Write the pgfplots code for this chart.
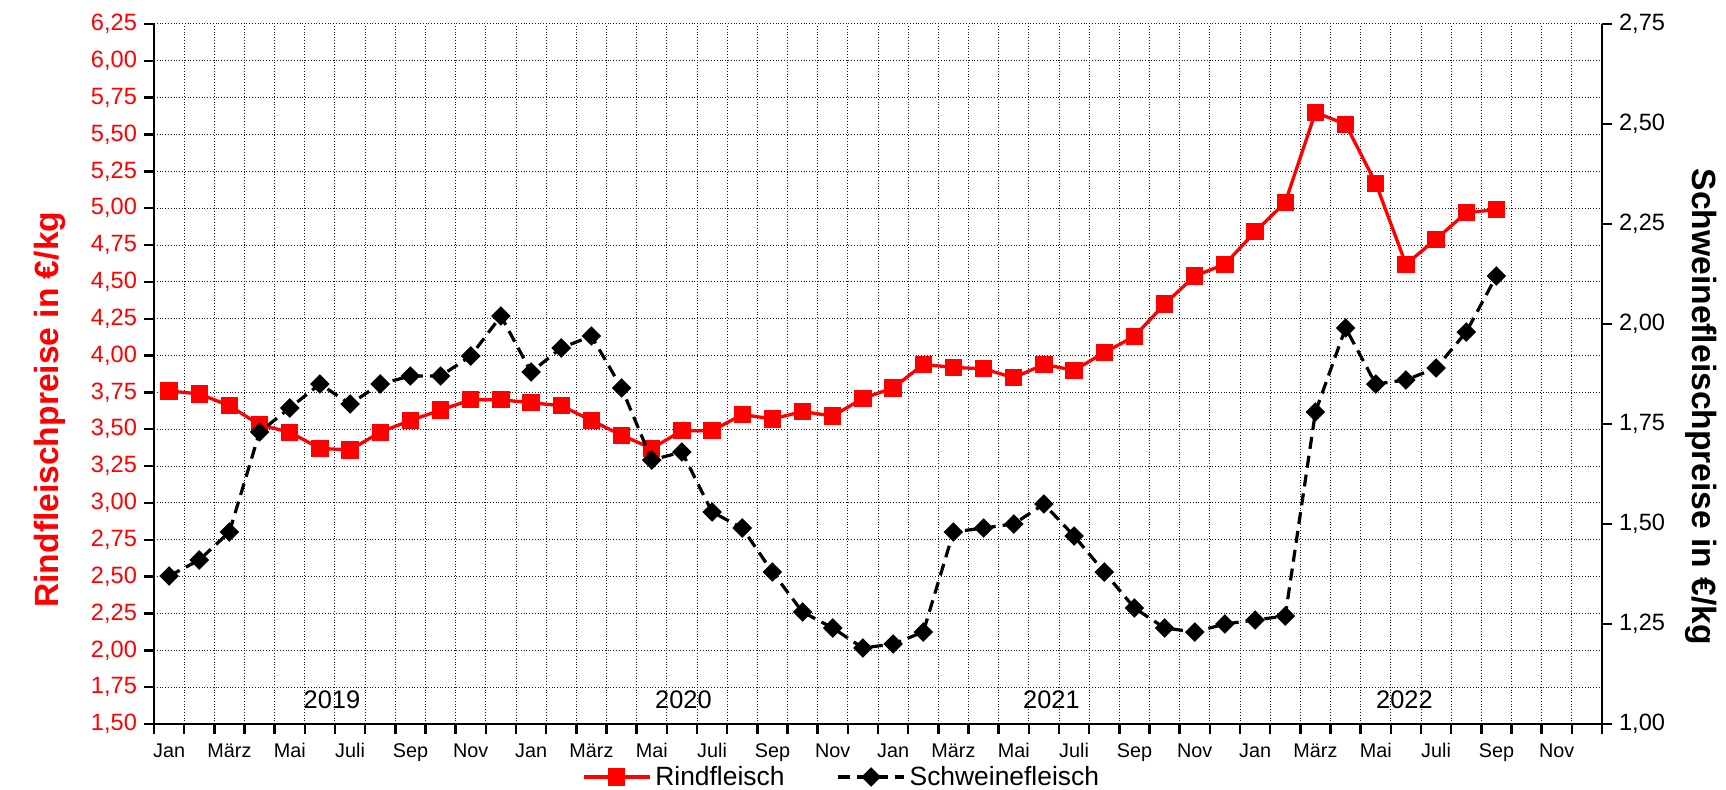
\documentclass[border=0pt]{standalone}
\usepackage{fontspec}
\setmainfont{Liberation Sans}
\usepackage{pgfplots}
\usepackage{pgfplotstable}
\pgfplotsset{compat=1.18}

\pgfplotstableread{
x y
0.5 3.76
1.5 3.74
2.5 3.66
3.5 3.53
4.5 3.48
5.5 3.37
6.5 3.36
7.5 3.48
8.5 3.56
9.5 3.63
10.5 3.70
11.5 3.70
12.5 3.68
13.5 3.66
14.5 3.56
15.5 3.46
16.5 3.37
17.5 3.49
18.5 3.49
19.5 3.60
20.5 3.57
21.5 3.62
22.5 3.59
23.5 3.71
24.5 3.78
25.5 3.94
26.5 3.92
27.5 3.91
28.5 3.85
29.5 3.94
30.5 3.90
31.5 4.02
32.5 4.13
33.5 4.35
34.5 4.54
35.5 4.62
36.5 4.84
37.5 5.04
38.5 5.65
39.5 5.57
40.5 5.17
41.5 4.62
42.5 4.79
43.5 4.97
44.5 4.99
}\rind

\pgfplotstableread{
x y
0.5 1.37
1.5 1.41
2.5 1.48
3.5 1.73
4.5 1.79
5.5 1.85
6.5 1.80
7.5 1.85
8.5 1.87
9.5 1.87
10.5 1.92
11.5 2.02
12.5 1.88
13.5 1.94
14.5 1.97
15.5 1.84
16.5 1.66
17.5 1.68
18.5 1.53
19.5 1.49
20.5 1.38
21.5 1.28
22.5 1.24
23.5 1.19
24.5 1.20
25.5 1.23
26.5 1.48
27.5 1.49
28.5 1.50
29.5 1.55
30.5 1.47
31.5 1.38
32.5 1.29
33.5 1.24
34.5 1.23
35.5 1.25
36.5 1.26
37.5 1.27
38.5 1.78
39.5 1.99
40.5 1.85
41.5 1.86
42.5 1.89
43.5 1.98
44.5 2.12
}\schwein

\pgfplotsset{
  common/.style={
    scale only axis, width=724pt, height=350pt,
    xmin=0, xmax=48,
    axis line style={line width=1.3pt, -},
    tick style={line width=1.2pt, black},
    major tick length=5pt,
    tick align=outside,
    /pgf/number format/fixed,
    /pgf/number format/fixed zerofill,
    /pgf/number format/precision=2,
    /pgf/number format/use comma,
    /pgf/number format/assume math mode=true,
  },
}

\begin{document}
\begin{tikzpicture}
\path[use as bounding box] (-77pt,-32.5pt) rectangle (786pt,362pt);
\begin{axis}[common,
  ymin=1.5, ymax=6.25,
  axis y line*=left, axis x line*=bottom,
  xtick={0,...,48}, xticklabels={},
  extra x ticks={0.5,2.5,...,46.5},
  extra x tick labels={Jan,März,Mai,Juli,Sep,Nov,Jan,März,Mai,Juli,Sep,Nov,Jan,März,Mai,Juli,Sep,Nov,Jan,März,Mai,Juli,Sep,Nov},
  extra x tick style={grid=none, major tick length=0pt},
  xticklabel style={font=\fontsize{9.9}{11}\selectfont, anchor=base, yshift=-16.5pt},
  ytick={1.5,1.75,2,2.25,2.5,2.75,3,3.25,3.5,3.75,4,4.25,4.5,4.75,5,5.25,5.5,5.75,6,6.25},
  yticklabel style={font=\fontsize{11.8}{13}\selectfont, text=red},
  grid=major,
  major grid style={densely dotted, black!90, line width=0.5pt},
  ylabel={\bfseries Rindfleischpreise in €/kg},
  every axis y label/.style={at={(axis description cs:-0.0722,0.449)}, rotate=90, anchor=center, font=\fontsize{16.8}{19}\selectfont, text=red},
]
\addplot[red, line width=1.65pt, mark=square*, mark size=3.5pt] table[x=x,y=y] {\rind};
\node[font=\fontsize{12.7}{14}\selectfont] at (axis cs:5.9,1.665) {2019};
\node[font=\fontsize{12.7}{14}\selectfont] at (axis cs:17.55,1.665) {2020};
\node[font=\fontsize{12.7}{14}\selectfont] at (axis cs:29.75,1.665) {2021};
\node[font=\fontsize{12.7}{14}\selectfont] at (axis cs:41.45,1.665) {2022};
\end{axis}
\begin{axis}[common,
  ymin=1, ymax=2.75,
  axis y line*=right, axis x line=none,
  ytick={1,1.25,1.5,1.75,2,2.25,2.5,2.75},
  yticklabel style={font=\fontsize{11.8}{13}\selectfont},
  ylabel={\bfseries Schweinefleischpreise in €/kg},
  every axis y label/.style={at={(axis description cs:1.0684,0.453)}, rotate=-90, anchor=center, font=\fontsize{16.8}{19}\selectfont},
  legend style={at={(axis description cs:0.4755,-0.0757)}, anchor=center, draw=none, fill=none,
    font=\fontsize{13.2}{15}\selectfont, legend columns=2,
    /tikz/every even column/.append style={column sep=24pt}},
  legend image code/.code={\draw[mark repeat=2,mark phase=2,#1] plot coordinates {(0pt,0pt) (16.5pt,0pt) (33pt,0pt)};},
]
\addlegendimage{red, line width=1.65pt, mark=square*, mark size=3.5pt}
\addlegendentry{Rindfleisch}
\addplot[black, line width=1.6pt, dash pattern=on 6pt off 3.5pt, mark=square*, mark size=2.65pt, mark options={solid, rotate=45}] table[x=x,y=y] {\schwein};
\addlegendentry{Schweinefleisch}
\end{axis}
\end{tikzpicture}
\end{document}
